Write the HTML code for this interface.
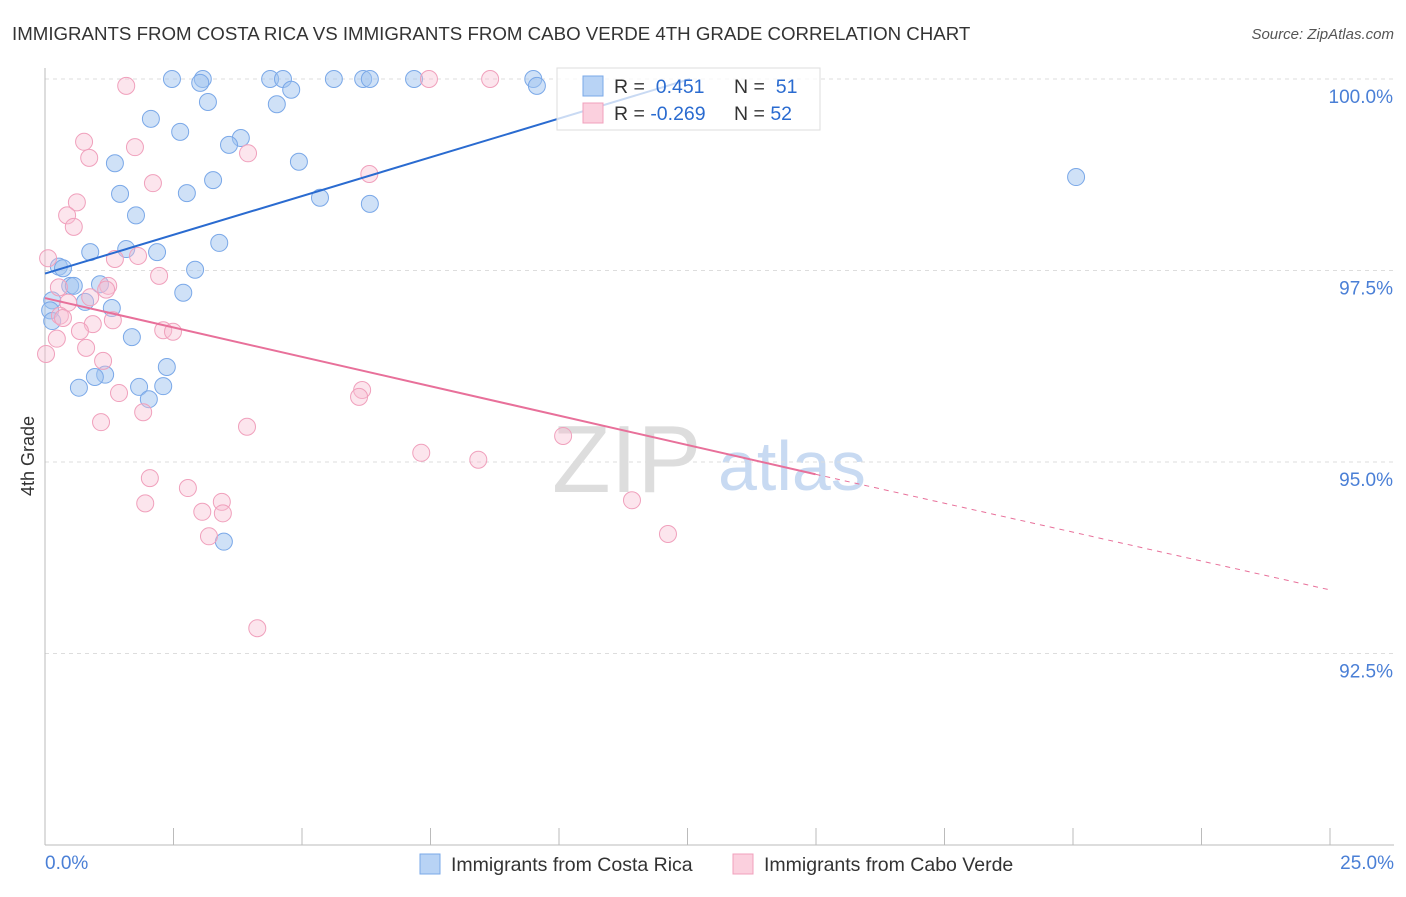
<!DOCTYPE html>
<html><head><meta charset="utf-8"><style>
body{margin:0;background:#fff;font-family:"Liberation Sans",sans-serif}
svg text{font-family:"Liberation Sans",sans-serif}
</style></head><body>
<svg id="chart" width="1406" height="892">
<text x="12" y="40" font-size="18.7" fill="#333">IMMIGRANTS FROM COSTA RICA VS IMMIGRANTS FROM CABO VERDE 4TH GRADE CORRELATION CHART</text>
<text x="1394" y="39" font-size="15" fill="#555" font-style="italic" text-anchor="end">Source: ZipAtlas.com</text>
<g>
<text x="552" y="492" font-size="96" fill="#ddd" font-family="Liberation Serif,serif">ZIP</text>
<text x="718" y="490" font-size="70" fill="#c8daf2">atlas</text>
</g>
<g id="grid"></g><g id="axes"></g><g id="pts"></g><g id="lines"></g>
<text transform="translate(34,456) rotate(-90)" font-size="18" fill="#333" text-anchor="middle">4th Grade</text>
<text x="45" y="869" font-size="19" fill="#4a7fd6">0.0%</text>
<text x="1394" y="869" font-size="19" fill="#4a7fd6" text-anchor="end">25.0%</text>
<g>
<rect x="557" y="68" width="263" height="62" fill="#fff" fill-opacity="0.75" stroke="#ddd"/>
<rect x="583" y="76" width="20" height="20" fill="#b8d3f5" stroke="#7aa8e8"/>
<rect x="583" y="103" width="20" height="20" fill="#fbd0de" stroke="#f0a0bc"/>
<text x="614" y="93" font-size="19.5" fill="#333">R = <tspan fill="#2a6bd0">&#160;0.451</tspan><tspan x="734">N = </tspan><tspan fill="#2a6bd0">&#160;51</tspan></text>
<text x="614" y="120" font-size="19.5" fill="#333">R = <tspan fill="#2a6bd0">-0.269</tspan><tspan x="734">N = </tspan><tspan fill="#2a6bd0">52</tspan></text>
</g>
<g>
<rect x="420" y="854" width="20" height="20" fill="#b8d3f5" stroke="#7aa8e8"/>
<text x="451" y="871" font-size="19.5" fill="#333">Immigrants from Costa Rica</text>
<rect x="733" y="854" width="20" height="20" fill="#fbd0de" stroke="#f0a0bc"/>
<text x="764" y="871" font-size="19.5" fill="#333">Immigrants from Cabo Verde</text>
</g>
</svg>
<script>
const yTicks=[100,97.5,95,92.5];
const yTickLabels=["100.0%","97.5%","95.0%","92.5%"];
const xTicks=[0,2.5,5,7.5,10,12.5,15,17.5,20,22.5,25];
const blueX=[2.47,3.07,3.02,4.38,4.63,4.79,5.62,6.19,6.32,7.18,9.50,9.57,3.17,4.51,2.06,2.63,3.81,3.58,1.36,4.94,3.27,2.76,1.46,5.35,6.32,1.77,3.39,0.88,1.58,2.18,0.27,0.35,2.92,1.07,0.49,0.56,2.69,0.14,0.78,1.30,0.10,0.14,1.69,2.37,1.17,0.97,0.66,1.83,2.30,2.02,3.48,20.06];
const blueY=[100,100,99.95,100,100,99.86,100,100,100,100,100,99.91,99.70,99.67,99.48,99.31,99.23,99.14,98.90,98.92,98.68,98.51,98.50,98.45,98.37,98.22,97.86,97.74,97.78,97.74,97.55,97.53,97.51,97.32,97.30,97.30,97.21,97.11,97.09,97.01,96.98,96.84,96.63,96.24,96.14,96.11,95.97,95.98,95.99,95.82,93.96,98.72];
const pinkX=[1.58,7.47,8.66,0.76,1.75,0.86,3.95,2.10,6.31,0.62,0.43,0.56,0.06,1.36,1.81,2.22,1.23,0.27,1.19,0.88,0.45,0.29,0.35,1.32,0.93,2.30,2.49,0.68,0.23,0.80,0.02,1.13,6.17,6.11,1.44,1.91,1.09,3.93,10.08,7.32,8.43,2.04,2.78,1.95,3.44,3.06,3.46,11.42,3.19,12.12,4.13];
const pinkY=[99.91,100,100,99.18,99.11,98.97,99.03,98.64,98.76,98.39,98.22,98.07,97.66,97.65,97.69,97.43,97.30,97.28,97.25,97.15,97.08,96.91,96.88,96.85,96.80,96.72,96.70,96.71,96.61,96.49,96.41,96.32,95.94,95.85,95.90,95.65,95.52,95.46,95.34,95.12,95.03,94.79,94.66,94.46,94.48,94.35,94.33,94.50,94.03,94.06,92.83];
const blueFit=[[0,97.46],[12.55,100]];
const pinkFit=[[0,97.14],[14.99,94.84]];
const pinkFitDash=[[14.99,94.84],[25,93.33]];
const NS="http://www.w3.org/2000/svg";
const xs=v=>45+v/25*1285;
const ys=v=>79+(100-v)/2.5*191.5;
function mk(t,a,p){const e=document.createElementNS(NS,t);for(const k in a)e.setAttribute(k,a[k]);document.getElementById(p).appendChild(e);return e;}
yTicks.forEach((t,i)=>{
 const l=mk('line',{x1:45,x2:1394,y1:ys(t),y2:ys(t),stroke:'#ddd','stroke-dasharray':'4,4'},'grid');
 
 
 const tx=mk('text',{x:1393,y:ys(t)+24,'font-size':19,fill:'#4a7fd6','text-anchor':'end'},'grid');
 tx.textContent=yTickLabels[i];
 
 
});
let a=mk('line',{x1:45,x2:45,y1:68,y2:845,stroke:'#bbb'},'axes');


a=mk('line',{x1:45,x2:1394,y1:845,y2:845,stroke:'#bbb'},'axes');


xTicks.forEach(t=>{
 const l=mk('line',{x1:xs(t),x2:xs(t),y1:828,y2:845,stroke:'#bbb'},'axes');
 
 
});
function pts(X,Y,fill,stroke,name){X.forEach((x,i)=>{
 const c=mk('circle',{cx:xs(x),cy:ys(Y[i]),r:8.5,fill:fill,stroke:stroke,'stroke-width':1},'pts');
 
 
});}
pts(blueX,blueY,'rgba(160,196,240,0.5)','#7aa8e8','point-costa-rica');
pts(pinkX,pinkY,'rgba(248,190,210,0.4)','#f0a0bc','point-cabo-verde');
let f=mk('line',{x1:xs(blueFit[0][0]),y1:ys(blueFit[0][1]),x2:xs(blueFit[1][0]),y2:ys(blueFit[1][1]),stroke:'#2a6bd0','stroke-width':2},'lines');


f=mk('line',{x1:xs(pinkFit[0][0]),y1:ys(pinkFit[0][1]),x2:xs(pinkFit[1][0]),y2:ys(pinkFit[1][1]),stroke:'#e8709a','stroke-width':2},'lines');


f=mk('line',{x1:xs(pinkFitDash[0][0]),y1:ys(pinkFitDash[0][1]),x2:xs(pinkFitDash[1][0]),y2:ys(pinkFitDash[1][1]),stroke:'#e8709a','stroke-width':1,'stroke-dasharray':'5,5'},'lines');


</script>
</body></html>
